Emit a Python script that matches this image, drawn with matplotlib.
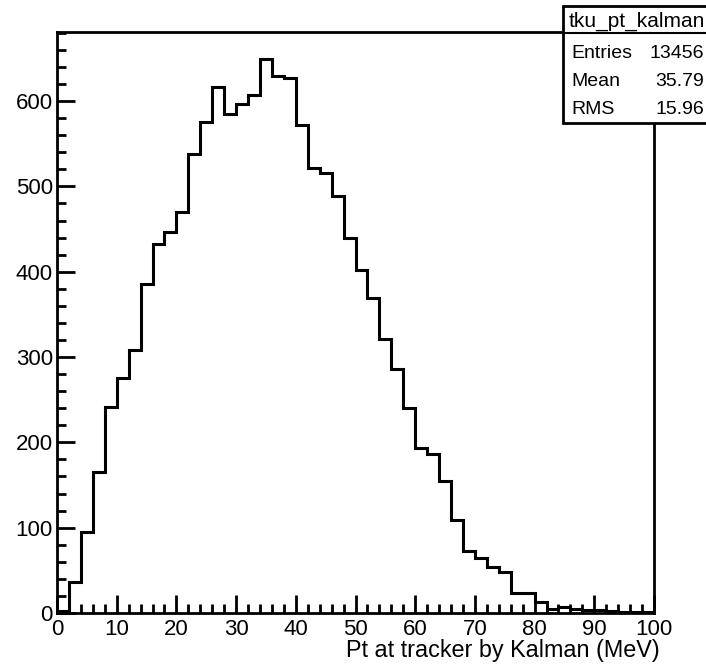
"""ROOT-style histogram of Pt at tracker by Kalman."""

import matplotlib

matplotlib.use("Agg")
import matplotlib.pyplot as plt
import numpy as np
from matplotlib.patches import Rectangle
from matplotlib.ticker import MultipleLocator

plt.rcParams["font.family"] = ["Liberation Sans", "DejaVu Sans"]

# histogram contents, 50 bins of width 2 MeV
bin_edges = np.arange(0, 102, 2)
counts = [
    2, 36, 95, 165, 241, 275, 308, 386, 432, 446,
    470, 538, 576, 616, 585, 597, 607, 649, 630, 627,
    572, 522, 516, 489, 439, 402, 369, 321, 286, 240,
    193, 186, 155, 109, 73, 64, 54, 48, 24, 23,
    13, 5, 7, 5, 4, 3, 2, 1, 1, 1,
]

hist_name = "tku_pt_kalman"
stat_labels = ["Entries", "Mean", "RMS"]
stat_values = ["13456", "35.79", "15.96"]
x_label = "Pt at tracker by Kalman (MeV)"

W, H = 706, 670
fig = plt.figure(figsize=(W / 100, H / 100), dpi=100)
ax = fig.add_axes([57 / W, (H - 613) / H, 597 / W, 581 / H])

ax.stairs(counts, bin_edges, baseline=0, color="black", linewidth=2.2)

ax.set_xlim(0, 100)
ax.set_ylim(0, 681)
ax.xaxis.set_major_locator(MultipleLocator(10))
ax.xaxis.set_minor_locator(MultipleLocator(2))
ax.yaxis.set_major_locator(MultipleLocator(100))
ax.yaxis.set_minor_locator(MultipleLocator(20))
ax.tick_params(which="both", direction="in", width=2, top=False, right=False,
               labelsize=16)
ax.tick_params(which="major", length=13)
ax.tick_params(which="minor", length=6.5)
ax.tick_params(axis="x", pad=4)
ax.tick_params(axis="y", pad=3)
for spine in ax.spines.values():
    spine.set_linewidth(2)

ax.set_xlabel(x_label, fontsize=16.8, ha="right", va="top")
ax.xaxis.set_label_coords((660 - 57) / 597, -0.045)

# stats box in the top right corner
box_left, box_top, box_bottom, head_y = 563, 6, 123, 33
fig.add_artist(Rectangle((box_left / W, (H - box_bottom) / H),
                         (W + 10 - box_left) / W, (box_bottom - box_top) / H,
                         transform=fig.transFigure, facecolor="white",
                         edgecolor="black", linewidth=2, zorder=5,
                         clip_on=False))
fig.add_artist(plt.Line2D([box_left / W, 1.02], [(H - head_y) / H] * 2,
                          transform=fig.transFigure, color="black",
                          linewidth=1.5, zorder=6))
fig.text(569 / W, (H - 27) / H, hist_name, fontsize=15, va="baseline",
         ha="left", zorder=7)
for i, (lab, val) in enumerate(zip(stat_labels, stat_values)):
    y = (H - 57.5 - 28.5 * i) / H
    fig.text(571 / W, y, lab, fontsize=14, va="baseline", ha="left", zorder=7)
    fig.text(704 / W, y, val, fontsize=14, va="baseline", ha="right", zorder=7)

fig.savefig("out.png", dpi=100)
